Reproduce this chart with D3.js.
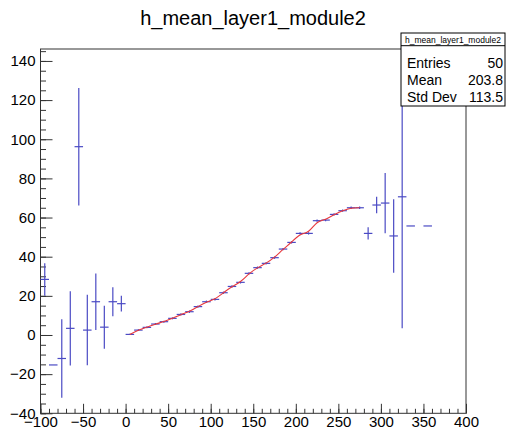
<!DOCTYPE html>
<html lang="en">
<head>
<meta charset="UTF-8">
<script src="https://cdn.jsdelivr.net/npm/d3@7"></script>
<title>h_mean_layer1_module2</title>
<style>
  body { margin: 0; background: #fff; }
  text { font-family: "Liberation Sans", Arial, Helvetica, sans-serif; }
</style>
</head>
<body>
<script>
  // bin centres (bin width 10), contents and errors
  var binCenters = [-95, -85, -75, -65, -55, -45, -35, -25, -15, -5,
    5, 15, 25, 35, 45, 55, 65, 75, 85, 95, 105, 115, 125, 135, 145, 155, 165, 175,
    185, 195, 205, 215, 225, 235, 245, 255, 265, 275,
    285, 295, 305, 315, 325, 335, 355];
  var binValues = [28.4, -15.3, -12, 3.4, 96.2, 2.5, 17, 4, 17, 16,
    0.3, 2.5, 3.9, 5.6, 6.8, 8.5, 10.5, 11.9, 14.5, 17, 18.2, 21.6, 24.8, 26.9, 31.5, 34.4, 36.6, 39.5,
    43.9, 47.3, 51.9, 51.9, 58.4, 58.7, 61.6, 63.5, 65, 65,
    51.9, 66.4, 67.4, 50.6, 70.6, 55.7, 55.7];
  var binErrors = [8.3, 0, 20, 19, 30, 18, 14.4, 11, 7.4, 4,
    0.3, 0.5, 0.5, 0.5, 0.5, 0.5, 0.6, 0.6, 0.6, 0.6, 0.6, 0.6, 0.6, 0.6, 0.6, 0.6, 0.6, 0.6,
    0.6, 0.6, 0.6, 0.6, 0.6, 0.6, 0.6, 0.6, 0.6, 0.6,
    3.1, 4.2, 15.4, 18.8, 67.2, 0, 0];
  var binWidth = 10;
  // range of the red fit, drawn through the fitted bins
  var fitFrom = 5, fitTo = 275;

  var xTicks = [-100, -50, 0, 50, 100, 150, 200, 250, 300, 350, 400];
  var yTicks = [-40, -20, 0, 20, 40, 60, 80, 100, 120, 140];

  var stats = [["Entries", "50"], ["Mean", "203.8"], ["Std Dev", "113.5"]];
  var histName = "h_mean_layer1_module2";

  var width = 506, height = 433;
  var fLeft = 40.5, fRight = 466, fTop = 49, fBottom = 413.3;

  var svg = d3.select("body").append("svg")
    .attr("width", width)
    .attr("height", height);

  var x = d3.scaleLinear().domain([-100, 400]).range([fLeft, fRight]);
  var y = d3.scaleLinear().domain([-40, 146.1]).range([fBottom, fTop]);

  var blue = "#4a4ac4";
  var minus = function(d) { return d3.format("")(d).replace("-", "\u2212"); };

  // title
  svg.append("text")
    .attr("x", 253).attr("y", 25)
    .attr("text-anchor", "middle")
    .style("font-size", "20px")
    .text(histName);

  // frame
  svg.append("rect")
    .attr("x", fLeft).attr("y", fTop)
    .attr("width", fRight - fLeft).attr("height", fBottom - fTop)
    .attr("fill", "none").attr("stroke", "#333").attr("stroke-width", 1);

  // x axis, ticks pointing up
  var xMinor = d3.range(-100, 401, 10);
  svg.append("g")
    .attr("transform", "translate(0," + fBottom + ")")
    .call(d3.axisBottom(x).tickValues(xMinor).tickSize(-4.5).tickFormat(""))
    .call(function(g) { g.select(".domain").remove(); });
  var gx = svg.append("g")
    .attr("transform", "translate(0," + fBottom + ")")
    .call(d3.axisBottom(x).tickValues(xTicks).tickSize(-9.5).tickPadding(3).tickFormat(minus));
  gx.select(".domain").remove();
  gx.selectAll("text").style("font-size", "15px").attr("fill", "#000");

  // y axis, ticks pointing right
  var yMinor = d3.range(-40, 146, 5);
  svg.append("g")
    .attr("transform", "translate(" + fLeft + ",0)")
    .call(d3.axisLeft(y).tickValues(yMinor).tickSize(-5.5).tickFormat(""))
    .call(function(g) { g.select(".domain").remove(); });
  var gy = svg.append("g")
    .attr("transform", "translate(" + fLeft + ",0)")
    .call(d3.axisLeft(y).tickValues(yTicks).tickSize(-12).tickPadding(5).tickFormat(minus));
  gy.select(".domain").remove();
  gy.selectAll("text").style("font-size", "15px").attr("fill", "#000");
  svg.selectAll(".tick line").attr("stroke", "#333");

  var bins = binCenters.map(function(c, i) {
    return {x: c, v: binValues[i], e: binErrors[i]};
  });

  // error bars
  var pts = svg.append("g").attr("stroke", blue).attr("stroke-width", 1.2);
  pts.selectAll(".xe").data(bins).enter().append("line")
    .attr("x1", function(d) { return x(d.x - binWidth / 2); })
    .attr("x2", function(d) { return x(d.x + binWidth / 2); })
    .attr("y1", function(d) { return y(d.v); })
    .attr("y2", function(d) { return y(d.v); });
  pts.selectAll(".ye").data(bins.filter(function(d) { return d.e > 0; })).enter().append("line")
    .attr("x1", function(d) { return x(d.x); })
    .attr("x2", function(d) { return x(d.x); })
    .attr("y1", function(d) { return y(d.v + d.e); })
    .attr("y2", function(d) { return y(d.v - d.e); });

  // fit curve
  var fitPts = bins.filter(function(d) { return d.x >= fitFrom && d.x <= fitTo; });
  svg.append("path")
    .datum(fitPts)
    .attr("fill", "none")
    .attr("stroke", "#e8383c")
    .attr("stroke-width", 1.1)
    .attr("d", d3.line()
      .x(function(d) { return x(d.x); })
      .y(function(d) { return y(d.v); })
      .curve(d3.curveBasis));

  // stats box
  var bx = 401, by = 33, bw = 104, bh = 73;
  var box = svg.append("g");
  box.append("rect")
    .attr("x", bx).attr("y", by).attr("width", bw).attr("height", bh)
    .attr("fill", "#fff").attr("stroke", "#000").attr("stroke-width", 1);
  box.append("line")
    .attr("x1", bx).attr("x2", bx + bw)
    .attr("y1", by + 12.7).attr("y2", by + 12.7)
    .attr("stroke", "#000");
  box.append("text")
    .attr("x", bx + bw / 2).attr("y", by + 9.5)
    .attr("text-anchor", "middle")
    .style("font-size", "8.5px")
    .text(histName);
  stats.forEach(function(s, i) {
    var ty = by + 35.3 + i * 17;
    box.append("text").attr("x", bx + 6).attr("y", ty)
      .style("font-size", "14px").text(s[0]);
    box.append("text").attr("x", bx + bw - 2).attr("y", ty)
      .attr("text-anchor", "end")
      .style("font-size", "14px").text(s[1]);
  });
</script>
</body>
</html>
